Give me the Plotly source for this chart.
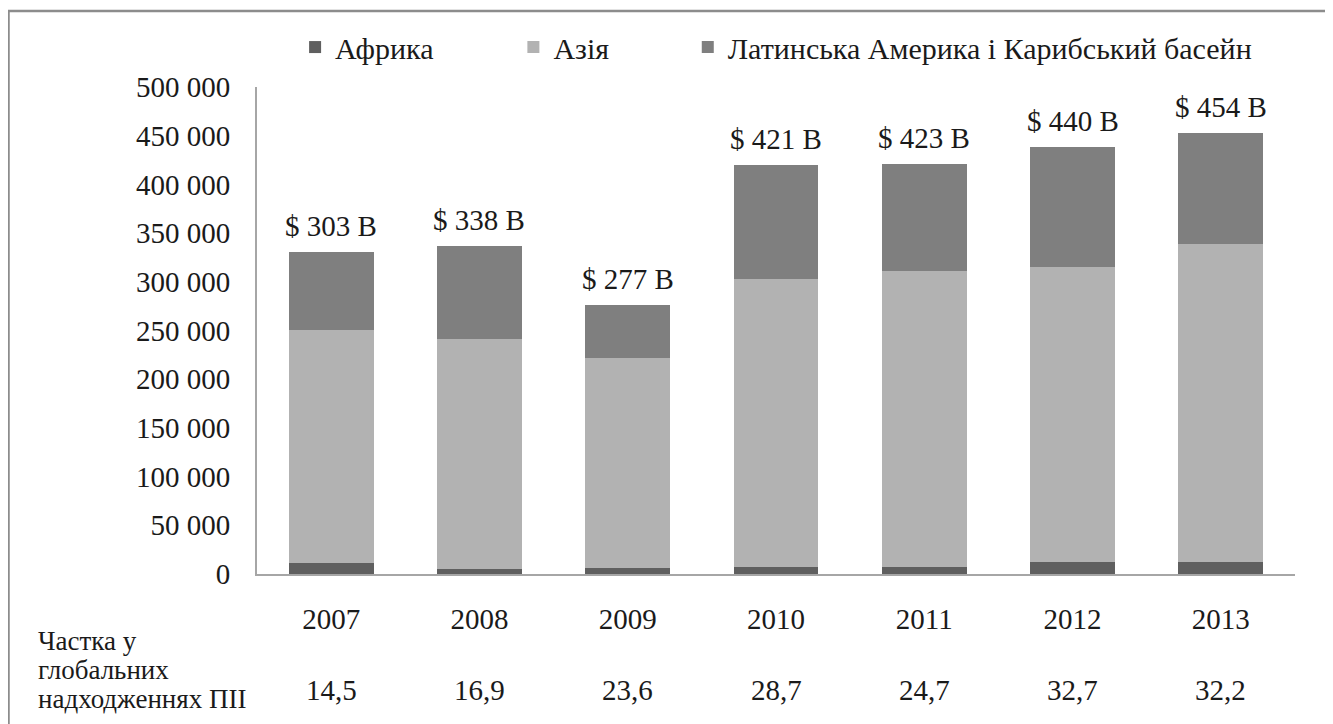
import plotly.graph_objects as go

years = ["2007", "2008", "2009", "2010", "2011", "2012", "2013"]
africa = [11300, 5100, 6400, 7400, 7400, 12100, 12100]
asia = [239100, 236400, 214900, 295700, 303900, 302600, 326600]
latam = [80000, 95700, 55100, 116900, 109700, 124000, 114400]
total_labels = ["$ 303 B", "$ 338 B", "$ 277 B", "$ 421 B", "$ 423 B", "$ 440 B", "$ 454 B"]
share = ["14,5", "16,9", "23,6", "28,7", "24,7", "32,7", "32,2"]
share_title = ["Частка у", "глобальних", "надходженнях ПІІ"]
names = ["Африка", "Азія", "Латинська Америка і Карибський басейн"]

FONT = "Liberation Serif"
FS = 29
TXT = "#1a1a1a"

fig = go.Figure()
colors = ["#5f5f5f", "#b2b2b2", "#7f7f7f"]
legends = ["legend", "legend2", "legend3"]
for vals, nm, col, lg in zip([africa, asia, latam], names, colors, legends):
    fig.add_trace(go.Bar(x=years, y=vals, name=nm, marker=dict(color=col, line=dict(width=0)),
                         legend=lg, hoverinfo="skip", showlegend=True))

totals = [a + b + c for a, b, c in zip(africa, asia, latam)]
annotations = []
for i, (t, lab) in enumerate(zip(totals, total_labels)):
    annotations.append(dict(x=i, xref="x", y=t, yref="y", text=lab, showarrow=False,
                            yanchor="middle", yshift=26,
                            font=dict(family=FONT, size=FS, color=TXT)))
for i, s in enumerate(share):
    annotations.append(dict(x=i, xref="x", y=-0.238, yref="paper", text=s, showarrow=False,
                            yanchor="middle", font=dict(family=FONT, size=FS, color=TXT)))
for i, line in enumerate(share_title):
    annotations.append(dict(x=-0.213, xref="paper", y=-0.137 - i * 0.0596, yref="paper", text=line,
                            showarrow=False, xanchor="left", yanchor="middle",
                            font=dict(family=FONT, size=FS - 2, color=TXT)))

leg_common = dict(orientation="h", yanchor="middle", y=1.082, xanchor="left",
                  font=dict(family=FONT, size=30, color=TXT), bgcolor="rgba(0,0,0,0)",
                  itemclick=False, visible=True)

fig.update_layout(
    width=1325, height=716,
    margin=dict(l=249, r=38, t=79, b=150),
    paper_bgcolor="white", plot_bgcolor="white",
    barmode="stack", bargap=0.427,
    separators=", ",
    showlegend=True,
    font=dict(family=FONT, size=FS, color=TXT),
    legend=dict(x=0.0367, **leg_common),
    legend2=dict(x=0.247, **leg_common),
    legend3=dict(x=0.415, **leg_common),
    annotations=annotations,
    xaxis=dict(type="category", range=[-0.5, 6.5], showline=True, linecolor="#a6a6a6",
               linewidth=2, ticks="", showgrid=False,
               tickfont=dict(family=FONT, size=FS, color=TXT), ticklabelstandoff=18),
    yaxis=dict(range=[0, 500000], tickvals=[0, 50000, 100000, 150000, 200000, 250000, 300000,
                                             350000, 400000, 450000, 500000],
               tickformat=",d", showline=True, linecolor="#a6a6a6", linewidth=2, ticks="",
               showgrid=False, zeroline=False, ticklabelstandoff=19,
               tickfont=dict(family=FONT, size=FS, color=TXT)),
    shapes=[dict(type="rect", xref="paper", yref="paper", x0=-0.2394, x1=1.0347, y0=-0.5, y1=1.156,
                 line=dict(color="#8c8c8c", width=2.5), fillcolor="rgba(0,0,0,0)", layer="below")],
)

fig.write_html("out.html")
